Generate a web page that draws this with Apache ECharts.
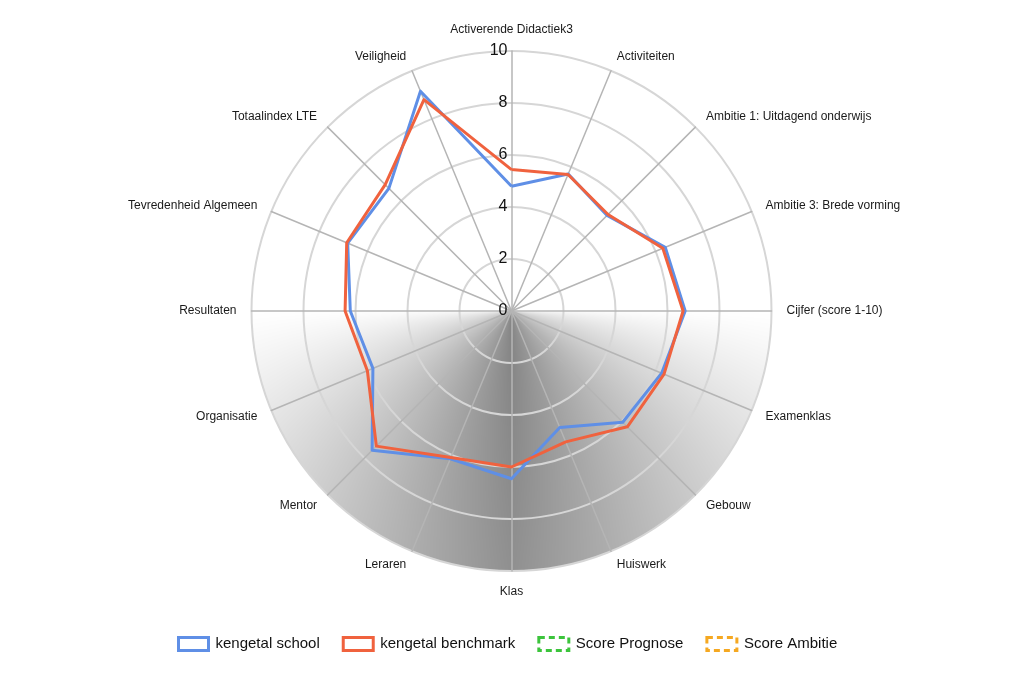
<!DOCTYPE html>
<html>
<head>
<meta charset="utf-8">
<title>Radar kengetallen</title>
<script src="https://cdn.jsdelivr.net/npm/echarts@6/dist/echarts.min.js"></script>
<style>
  html, body { margin: 0; padding: 0; background: #fff; }
  #chart { width: 1023px; height: 680px; }
</style>
</head>
<body>
<div id="chart"></div>
<script>
// indicatoren, met de klok mee vanaf boven
var categories = [
  'Activerende Didactiek3', 'Activiteiten', 'Ambitie 1: Uitdagend onderwijs',
  'Ambitie 3: Brede vorming', 'Cijfer (score 1-10)', 'Examenklas', 'Gebouw',
  'Huiswerk', 'Klas', 'Leraren', 'Mentor', 'Organisatie', 'Resultaten',
  'Tevredenheid Algemeen', 'Totaalindex LTE', 'Veiligheid'
];
var schoolValues    = [4.8, 5.7, 5.2, 6.4, 6.68, 6.25, 6.05, 4.85, 6.45, 6.15, 7.58, 5.77, 6.2, 6.82, 6.67, 9.15];
var benchmarkValues = [5.44, 5.68, 5.25, 6.3, 6.6, 6.35, 6.3, 5.45, 6.0, 6.1, 7.35, 6.0, 6.4, 6.86, 6.87, 8.8];
var prognoseValues  = [];
var ambitieValues   = [];
var seriesNames = ['kengetal school', 'kengetal benchmark', 'Score Prognose', 'Score Ambitie'];
var axisMin = 0, axisMax = 10;

var colors = ['#5f8fe6', '#f0623e', '#3cc43c', '#f5a821'];
var font = "'Liberation Sans', Arial, sans-serif";
var cx = 511.5, cy = 311, R = 260;

// echarts legt de radar tegen de klok in, dus volgorde omdraaien (eerste blijft boven)
function clockwise(arr) {
  if (!arr.length) return arr;
  return [arr[0]].concat(arr.slice(1).reverse());
}

// grijze schaduw in de onderste helft (hoek + afstand tot midden)
function shadeLevel(t, rn) {
  var A = 0.97 - 0.10 * rn;
  var p = 0.5 + 0.6 * rn;
  var f = t <= 0 ? 0 : A * Math.pow(t, p);
  return Math.round(255 - 128 * f);
}
function buildShade(x0, w, h) {
  var cv = document.createElement('canvas');
  cv.width = w; cv.height = h;
  var ctx = cv.getContext('2d');
  var img = ctx.createImageData(w, h);
  for (var y = 0; y < h; y++) {
    for (var x = 0; x < w; x++) {
      var dx = x0 + x + 0.5 - cx, dy = y + 0.5;
      var r = Math.sqrt(dx * dx + dy * dy);
      var a = Math.max(0, Math.min(1, R - r + 0.5));
      var t = Math.atan2(dy, Math.abs(dx)) / (Math.PI / 2);
      var g = shadeLevel(t, Math.min(1, r / R));
      var idx = (y * w + x) * 4;
      img.data[idx] = g; img.data[idx + 1] = g; img.data[idx + 2] = g;
      img.data[idx + 3] = Math.round(a * 255);
    }
  }
  ctx.putImageData(img, 0, 0);
  return cv;
}
var shadeX = Math.floor(cx - R), shadeW = Math.ceil(2 * R) + 2, shadeH = Math.ceil(R) + 2;
var shadeImg = buildShade(shadeX, shadeW, shadeH);

var chart = echarts.init(document.getElementById('chart'));

chart.setOption({
  backgroundColor: '#fff',
  animation: false,
  graphic: [{
    type: 'image',
    silent: true,
    z: -10,
    style: { image: shadeImg, x: shadeX, y: cy, width: shadeW, height: shadeH }
  }],
  legend: {
    left: 172,
    top: 631,
    icon: 'rect',
    itemWidth: 30,
    itemHeight: 13,
    itemGap: 22,
    selectedMode: false,
    textStyle: { fontSize: 15, color: '#111', fontFamily: font, padding: [0, 0, 0, 2] },
    data: seriesNames.map(function (n, i) {
      return {
        name: n,
        itemStyle: {
          color: 'rgba(0,0,0,0)',
          borderColor: colors[i],
          borderWidth: 3,
          borderType: i > 1 ? [6, 4] : 'solid'
        }
      };
    })
  },
  radar: {
    center: [cx, cy],
    radius: R,
    startAngle: 90,
    shape: 'circle',
    splitNumber: 5,
    nameGap: 15,
    indicator: clockwise(categories).map(function (name, i) {
      return { name: name, min: axisMin, max: axisMax, axisLabel: { show: i === 0 } };
    }),
    axisName: { color: '#1a1a1a', fontSize: 12, fontFamily: font },
    splitLine: { lineStyle: { color: '#d6d6d6', width: 2 } },
    splitArea: { show: false },
    axisLine: { lineStyle: { color: '#b5b5b5', width: 1.5 } },
    axisTick: { show: false },
    axisLabel: { show: false, color: '#111', fontSize: 16, fontFamily: font, margin: 4 }
  },
  series: [{
    type: 'radar',
    symbol: 'none',
    data: [
      { name: seriesNames[0], value: clockwise(schoolValues),
        lineStyle: { color: colors[0], width: 3 }, itemStyle: { color: colors[0] } },
      { name: seriesNames[1], value: clockwise(benchmarkValues),
        lineStyle: { color: colors[1], width: 3 }, itemStyle: { color: colors[1] } },
      { name: seriesNames[2], value: clockwise(prognoseValues),
        lineStyle: { color: colors[2], width: 3, type: 'dashed' }, itemStyle: { color: colors[2] } },
      { name: seriesNames[3], value: clockwise(ambitieValues),
        lineStyle: { color: colors[3], width: 3, type: 'dashed' }, itemStyle: { color: colors[3] } }
    ]
  }]
});
</script>
</body>
</html>
